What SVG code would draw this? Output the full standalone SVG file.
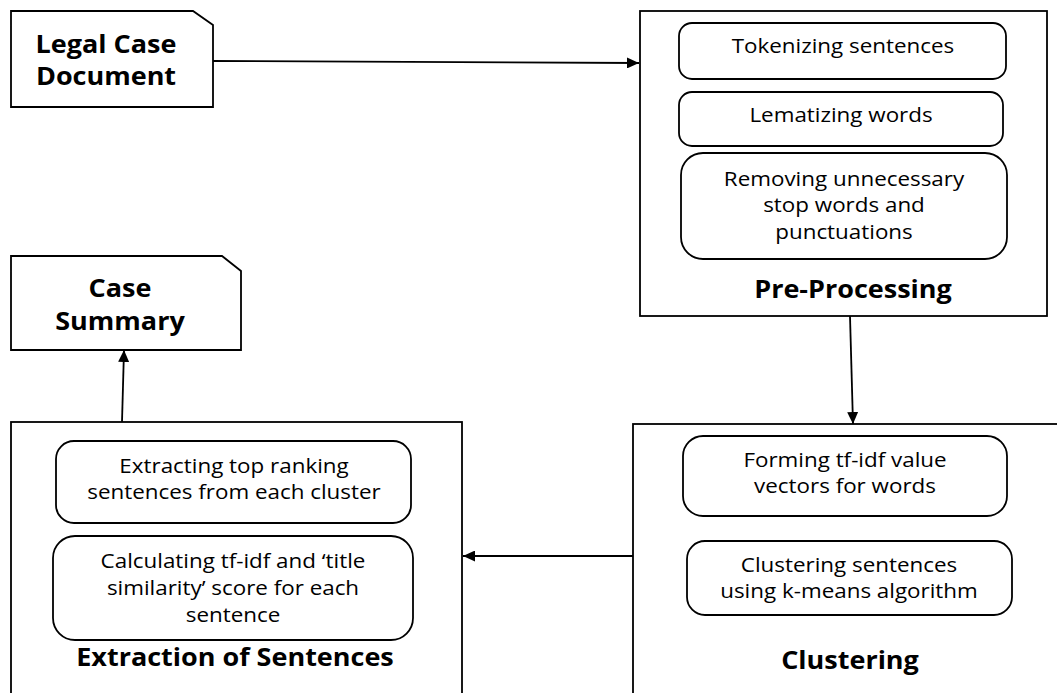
<svg xmlns="http://www.w3.org/2000/svg" width="1057" height="693" viewBox="0 0 1057 693">
<defs>
<style>
.box{fill:#fff;stroke:#000;stroke-width:1.8}
.inner{fill:#fff;stroke:#000;stroke-width:1.8}
.t{font-family:"Open Sans","Liberation Sans",sans-serif;font-size:20px;fill:#000;text-anchor:middle}
.b{font-family:"Open Sans","Liberation Sans",sans-serif;font-size:25px;font-weight:bold;fill:#000;text-anchor:middle}
.c{fill:none;stroke:#000;stroke-width:1.8}
</style>
<marker id="arr" viewBox="0 0 12 11" refX="12" refY="5.5" markerWidth="12" markerHeight="11" markerUnits="userSpaceOnUse" orient="auto">
<path d="M0,0 L12,5.5 L0,11 z" fill="#000"/>
</marker>
</defs>
<rect width="1057" height="693" fill="#fff"/>
<g id="legal-case-document">
<path class="box" d="M11,11 H193 L213,25 V107 H11 Z"/>
<text class="b" transform="translate(106,53) scale(1.08,1)">Legal Case</text>
<text class="b" transform="translate(106,85) scale(1.08,1)">Document</text>
</g>
<g id="pre-processing">
<rect class="box" x="640" y="11" width="407" height="305"/>
<rect class="inner" x="679" y="23" width="327" height="56" rx="13"/>
<text class="t" transform="translate(843,53) scale(1.12,1)">Tokenizing sentences</text>
<rect class="inner" x="679" y="92" width="324" height="54" rx="13"/>
<text class="t" transform="translate(841,122) scale(1.12,1)">Lematizing words</text>
<rect class="inner" x="681" y="153" width="326" height="106" rx="22"/>
<text class="t" transform="translate(844,186) scale(1.12,1)">Removing unnecessary</text>
<text class="t" transform="translate(844,212) scale(1.12,1)">stop words and</text>
<text class="t" transform="translate(844,239) scale(1.12,1)">punctuations</text>
<text class="b" transform="translate(853,298) scale(1.08,1)">Pre-Processing</text>
</g>
<g id="case-summary">
<path class="box" d="M11,256 H222 L241,271 V350 H11 Z"/>
<text class="b" transform="translate(120,297) scale(1.08,1)">Case</text>
<text class="b" transform="translate(120,330) scale(1.08,1)">Summary</text>
</g>
<g id="extraction">
<rect class="box" x="11" y="422" width="451" height="290"/>
<rect class="inner" x="56" y="441" width="355" height="82" rx="18"/>
<text class="t" transform="translate(234,473) scale(1.12,1)">Extracting top ranking</text>
<text class="t" transform="translate(234,499) scale(1.12,1)">sentences from each cluster</text>
<rect class="inner" x="53" y="536" width="360" height="104" rx="22"/>
<text class="t" transform="translate(233,568) scale(1.12,1)">Calculating tf-idf and ‘title</text>
<text class="t" transform="translate(233,595) scale(1.12,1)">similarity’ score for each</text>
<text class="t" transform="translate(233,622) scale(1.12,1)">sentence</text>
<text class="b" transform="translate(235,666) scale(1.08,1)">Extraction of Sentences</text>
</g>
<g id="clustering">
<rect class="box" x="633" y="424" width="450" height="290"/>
<rect class="inner" x="683" y="436" width="324" height="80" rx="20"/>
<text class="t" transform="translate(845,467) scale(1.12,1)">Forming tf-idf value</text>
<text class="t" transform="translate(845,493) scale(1.12,1)">vectors for words</text>
<rect class="inner" x="687" y="541" width="325" height="74" rx="18"/>
<text class="t" transform="translate(849,572) scale(1.12,1)">Clustering sentences</text>
<text class="t" transform="translate(849,598) scale(1.12,1)">using k-means algorithm</text>
<text class="b" transform="translate(850,669) scale(1.08,1)">Clustering</text>
</g>
<g id="connectors">
<line class="c" x1="213" y1="61" x2="639" y2="63" marker-end="url(#arr)"/>
<line class="c" x1="850" y1="316" x2="853" y2="424" marker-end="url(#arr)"/>
<line class="c" x1="633" y1="556" x2="463" y2="556" marker-end="url(#arr)"/>
<line class="c" x1="122" y1="422" x2="124" y2="350" marker-end="url(#arr)"/>
</g>
</svg>
